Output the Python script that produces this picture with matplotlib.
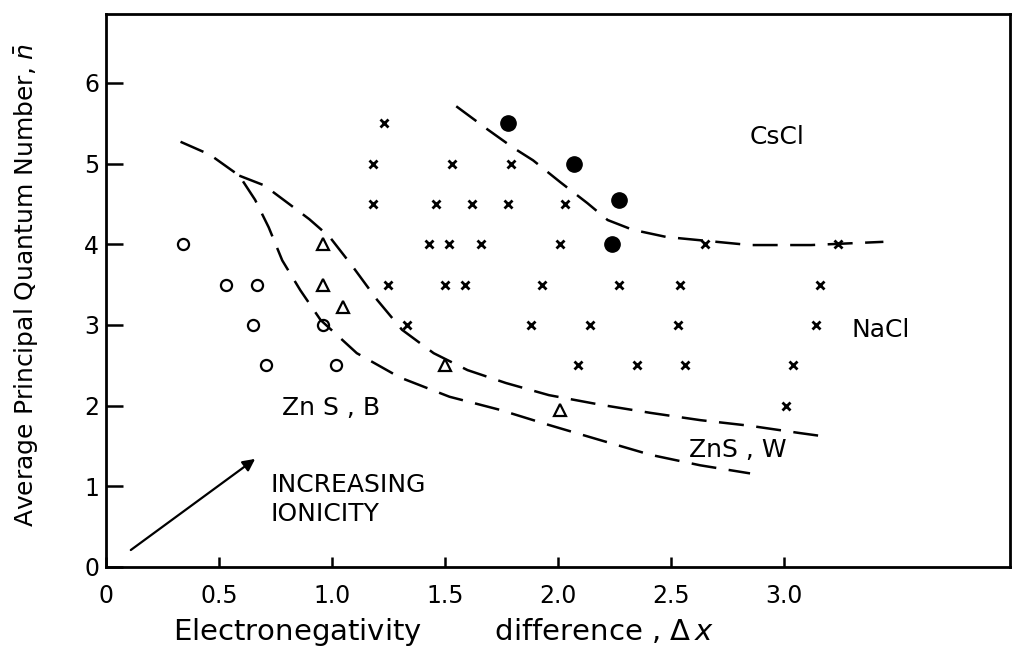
import matplotlib.pyplot as plt

# data
cross_x = [1.23, 1.18, 1.53, 1.79, 1.18, 1.46, 1.62, 1.78, 2.03,
           1.43, 1.52, 1.66, 2.01, 2.65, 3.24,
           1.25, 1.50, 1.59, 1.93, 2.27, 2.54, 3.16,
           1.33, 1.88, 2.14, 2.53, 3.14,
           2.09, 2.35, 2.56, 3.04, 3.01]
cross_y = [5.5, 5.0, 5.0, 5.0, 4.5, 4.5, 4.5, 4.5, 4.5,
           4.0, 4.0, 4.0, 4.0, 4.0, 4.0,
           3.5, 3.5, 3.5, 3.5, 3.5, 3.5, 3.5,
           3.0, 3.0, 3.0, 3.0, 3.0,
           2.5, 2.5, 2.5, 2.5, 2.0]

dot_x = [1.78, 2.07, 2.27, 2.24]
dot_y = [5.5, 5.0, 4.55, 4.0]

circ_x = [0.34, 0.53, 0.67, 0.65, 0.96, 0.71, 1.02]
circ_y = [4.0, 3.5, 3.5, 3.0, 3.0, 2.5, 2.5]

tri_x = [0.96, 0.96, 1.05, 1.50, 2.01]
tri_y = [4.0, 3.5, 3.22, 2.5, 1.95]

# ZnS,B boundary (inner) and ZnS,W boundary (outer)
inner_x = [0.33, 0.46, 0.59, 0.66, 0.72, 0.78, 0.86, 0.95, 1.11, 1.30, 1.52,
           1.74, 1.96, 2.19, 2.41, 2.63, 2.85]
inner_y = [5.27, 5.11, 4.85, 4.55, 4.21, 3.80, 3.43, 3.06, 2.65, 2.35, 2.11,
           1.95, 1.76, 1.57, 1.39, 1.26, 1.16]
outer_x = [0.59, 0.70, 0.81, 0.90, 0.99, 1.09, 1.20, 1.31, 1.45, 1.60, 1.77,
           1.96, 2.19, 2.41, 2.63, 2.85, 3.07, 3.20]
outer_y = [4.85, 4.73, 4.50, 4.31, 4.09, 3.73, 3.31, 2.94, 2.65, 2.44, 2.28,
           2.13, 2.01, 1.91, 1.82, 1.75, 1.66, 1.61]
cscl_x = [1.55, 1.69, 1.80, 1.89, 2.01, 2.13, 2.22, 2.33, 2.48, 2.85, 3.12, 3.44]
cscl_y = [5.71, 5.42, 5.20, 5.04, 4.77, 4.51, 4.30, 4.18, 4.09, 3.99, 3.99, 4.03]

xticks = [0, 0.5, 1.0, 1.5, 2.0, 2.5, 3.0]
xtick_labels = ['0', '0.5', '1.0', '1.5', '2.0', '2.5', '3.0']
yticks = [0, 1, 2, 3, 4, 5, 6]

fig = plt.figure(figsize=(10.13, 6.5), dpi=100)
ax = fig.add_axes([0.1046, 0.1277, 0.8924, 0.8503])

for cx, cy in [(inner_x, inner_y), (outer_x, outer_y), (cscl_x, cscl_y)]:
    line, = ax.plot(cx, cy, color='black', lw=1.8)
    line.set_dashes((10, 5))

ax.plot(cross_x, cross_y, 'x', color='black', ms=6, mew=2)
ax.plot(dot_x, dot_y, 'o', color='black', ms=11)
ax.plot(circ_x, circ_y, 'o', mfc='none', mec='black', ms=8, mew=1.6)
ax.plot(tri_x, tri_y, '^', mfc='none', mec='black', ms=8, mew=1.6)

# increasing ionicity arrow
ax.annotate('', xy=(0.67, 1.36), xytext=(0.10, 0.19),
            arrowprops=dict(arrowstyle='-|>', color='black', lw=1.6,
                            mutation_scale=18))

ax.text(2.97, 5.33, 'CsCl', fontsize=18, ha='center', va='center')
ax.text(3.30, 2.94, 'NaCl', fontsize=18, ha='left', va='center')
ax.text(0.78, 1.97, 'Zn S , B', fontsize=18, ha='left', va='center')
ax.text(2.58, 1.45, 'ZnS , W', fontsize=18, ha='left', va='center')
ax.text(0.73, 0.84, 'INCREASING\nIONICITY', fontsize=18, ha='left',
        va='center', linespacing=1.25)

ax.set_xlim(0, 4.0)
ax.set_ylim(0, 6.85)
ax.set_xticks(xticks)
ax.set_xticklabels(xtick_labels)
ax.set_yticks(yticks)
ax.tick_params(axis='both', direction='in', labelsize=17, width=1.8)
ax.tick_params(axis='y', length=12, pad=5)
ax.tick_params(axis='x', length=7, pad=12)
for s in ax.spines.values():
    s.set_linewidth(2)

ax.set_xlabel(r'Electronegativity        difference , $\Delta\,x$', fontsize=21)
ax.set_ylabel(r'Average Principal Quantum Number, $\bar{n}$', fontsize=18)
ax.xaxis.set_label_coords(0.373, -0.1175)
ax.yaxis.set_label_coords(-0.087, 0.51)
ax.xaxis.label.set_va('center')
ax.yaxis.label.set_va('center')

fig.savefig('out.png', dpi=100)
